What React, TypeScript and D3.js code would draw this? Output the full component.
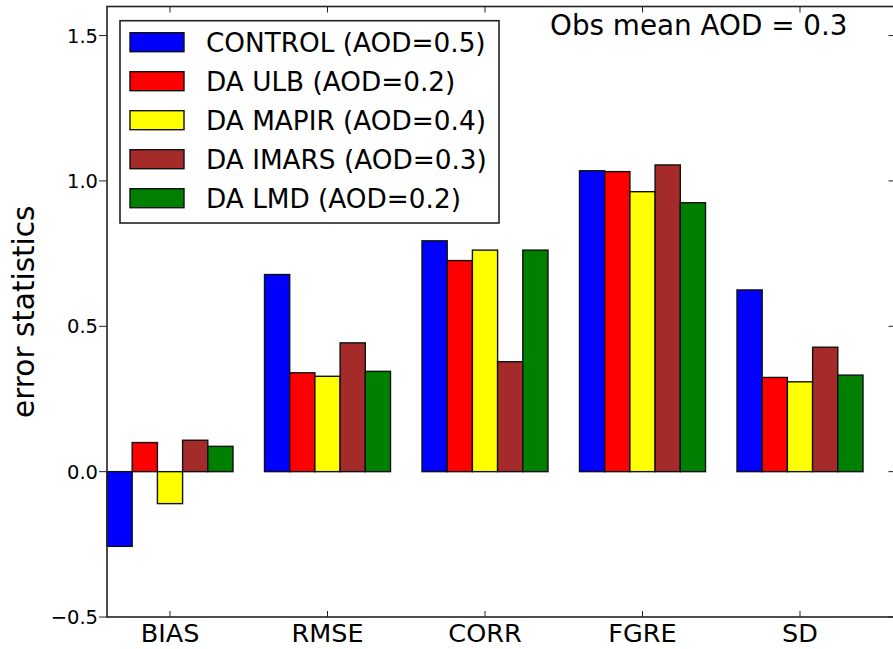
import React, { useEffect, useRef } from "react";
import * as d3 from "d3";

const categories = ["BIAS", "RMSE", "CORR", "FGRE", "SD"];
const seriesNames = [
  "CONTROL (AOD=0.5)",
  "DA ULB (AOD=0.2)",
  "DA MAPIR (AOD=0.4)",
  "DA IMARS (AOD=0.3)",
  "DA LMD (AOD=0.2)",
];
const seriesColors = ["#0000ff", "#ff0000", "#ffff00", "#a52a2a", "#008000"];
const control = [-0.257, 0.678, 0.794, 1.035, 0.625];
const ulb = [0.1, 0.34, 0.726, 1.032, 0.324];
const mapir = [-0.11, 0.328, 0.762, 0.963, 0.309];
const imars = [0.108, 0.443, 0.378, 1.055, 0.428];
const lmd = [0.087, 0.345, 0.762, 0.925, 0.332];
const yTicks = [-0.5, 0.0, 0.5, 1.0, 1.5];
const annotation = "Obs mean AOD = 0.3";
const yLabel = "error statistics";

const W = 893;
const H = 649;
const font = "DejaVu Sans, sans-serif";

export default function App() {
  const ref = useRef<SVGSVGElement>(null);

  useEffect(() => {
    const svg = d3.select(ref.current);
    svg.selectAll("*").remove();

    const series = [control, ulb, mapir, imars, lmd];
    const barW = 0.16;

    // axes box (right spine falls just outside the picture, like the original)
    const x = d3.scaleLinear().domain([0, 5]).range([107, 894.5]);
    const y = d3.scaleLinear().domain([-0.5, 1.6]).range([617, 6.5]);
    const [x0, x1] = x.range();
    const [y0, y1] = y.range();

    // bars
    const gBars = svg.append("g");
    series.forEach((vals, k) => {
      gBars
        .selectAll(null)
        .data(vals)
        .join("rect")
        .attr("x", (d, i) => x(i + k * barW))
        .attr("width", x(barW) - x(0))
        .attr("y", (d) => y(Math.max(0, d)))
        .attr("height", (d) => Math.abs(y(d) - y(0)))
        .attr("fill", seriesColors[k])
        .attr("stroke", "#111")
        .attr("stroke-width", 1.4);
    });

    // ticks
    const tickX = categories.map((c, i) => i + 0.4);
    const gT = svg.append("g").attr("stroke", "#222").attr("stroke-width", 1);
    gT.selectAll(".bt")
      .data(tickX)
      .join("line")
      .attr("x1", (d) => x(d))
      .attr("x2", (d) => x(d))
      .attr("y1", y0)
      .attr("y2", y0 - 6);
    gT.selectAll(".tt")
      .data(tickX)
      .join("line")
      .attr("x1", (d) => x(d))
      .attr("x2", (d) => x(d))
      .attr("y1", y1)
      .attr("y2", y1 + 6);
    gT.selectAll(".lt")
      .data(yTicks)
      .join("line")
      .attr("x1", x0)
      .attr("x2", x0 - 8)
      .attr("y1", (d) => y(d))
      .attr("y2", (d) => y(d));
    gT.selectAll(".rt")
      .data(yTicks)
      .join("line")
      .attr("x1", x1)
      .attr("x2", x1 - 6)
      .attr("y1", (d) => y(d))
      .attr("y2", (d) => y(d));

    // spines
    svg
      .append("rect")
      .attr("x", x0)
      .attr("y", y1)
      .attr("width", x1 - x0)
      .attr("height", y0 - y1)
      .attr("fill", "none")
      .attr("stroke", "#222")
      .attr("stroke-width", 1.6);

    // tick labels
    svg
      .append("g")
      .selectAll("text")
      .data(yTicks)
      .join("text")
      .attr("x", 98)
      .attr("y", (d) => y(d))
      .attr("dy", "0.36em")
      .attr("text-anchor", "end")
      .attr("font-family", font)
      .attr("font-size", 19.5)
      .text((d) => d3.format(".1f")(d).replace("-", "\u2212"));

    svg
      .append("g")
      .selectAll("text")
      .data(categories)
      .join("text")
      .attr("x", (d, i) => x(i + 0.4))
      .attr("y", 642)
      .attr("text-anchor", "middle")
      .attr("font-family", font)
      .attr("font-size", 25.5)
      .text((d) => d);

    // y label
    svg
      .append("text")
      .attr("transform", `translate(33.5,${(y0 + y1) / 2}) rotate(-90)`)
      .attr("text-anchor", "middle")
      .attr("font-family", font)
      .attr("font-size", 29.5)
      .text(yLabel);

    // annotation
    svg
      .append("text")
      .attr("x", 550)
      .attr("y", 35)
      .attr("font-family", font)
      .attr("font-size", 27.8)
      .text(annotation);

    // legend
    const gL = svg.append("g");
    gL.append("rect")
      .attr("x", 120)
      .attr("y", 20.7)
      .attr("width", 379)
      .attr("height", 202.3)
      .attr("fill", "#fff")
      .attr("stroke", "#222")
      .attr("stroke-width", 1.6);
    seriesNames.forEach((name, k) => {
      const top = 32.7 + k * 39;
      gL.append("rect")
        .attr("x", 130)
        .attr("y", top)
        .attr("width", 54)
        .attr("height", 19)
        .attr("fill", seriesColors[k])
        .attr("stroke", "#111")
        .attr("stroke-width", 1.4);
      gL.append("text")
        .attr("x", 206)
        .attr("y", top + 19)
        .attr("font-family", font)
        .attr("font-size", 26.3)
        .text(name);
    });
  }, []);

  return (
    <svg
      ref={ref}
      width={W}
      height={H}
      style={{ position: "absolute", left: 0, top: 0, background: "#fff" }}
    />
  );
}
